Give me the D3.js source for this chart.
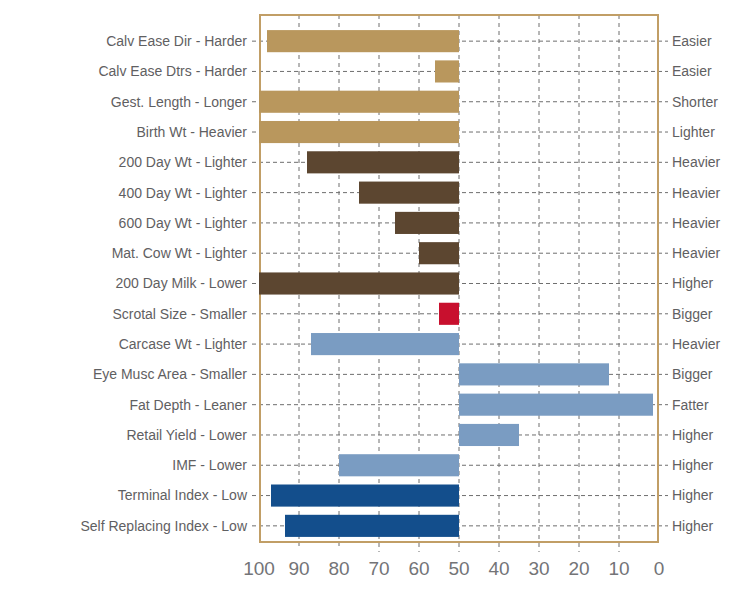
<!DOCTYPE html>
<html>
<head>
<meta charset="utf-8">
<script src="https://cdn.jsdelivr.net/npm/d3@7"></script>
<style>
  body { margin: 0; background: #fff; }
  text { font-family: "Liberation Sans", Arial, sans-serif; fill: #5f6062; }
</style>
</head>
<body>
<svg class="chart" width="732" height="589"></svg>
<script>
// traits, left (low) label, right (high) label, value and group colour
var traits = ["Calv Ease Dir - Harder", "Calv Ease Dtrs - Harder", "Gest. Length - Longer", "Birth Wt - Heavier",
  "200 Day Wt - Lighter", "400 Day Wt - Lighter", "600 Day Wt - Lighter", "Mat. Cow Wt - Lighter",
  "200 Day Milk - Lower", "Scrotal Size - Smaller", "Carcase Wt - Lighter", "Eye Musc Area - Smaller",
  "Fat Depth - Leaner", "Retail Yield - Lower", "IMF - Lower", "Terminal Index - Low", "Self Replacing Index - Low"];
var rightLabels = ["Easier", "Easier", "Shorter", "Lighter", "Heavier", "Heavier", "Heavier", "Heavier",
  "Higher", "Bigger", "Heavier", "Bigger", "Fatter", "Higher", "Higher", "Higher", "Higher"];
var percentiles = [98, 56, 100, 100, 88, 75, 66, 60, 100, 55, 87, 12.5, 1.5, 35, 80, 97, 93.5];
var groups = ["calving", "calving", "calving", "calving", "growth", "growth", "growth", "growth",
  "growth", "fertility", "carcase", "carcase", "carcase", "carcase", "carcase", "index", "index"];
var ticks = [100, 90, 80, 70, 60, 50, 40, 30, 20, 10, 0];

var svg = d3.select(".chart");
// plot frame (don't call it "top", that's window.top)
var fLeft = 260, fRight = 658, fTop = 15, fBottom = 542;

var color = d3.scaleOrdinal()
    .domain(["calving", "growth", "fertility", "carcase", "index"])
    .range(["#b9975d", "#5c4630", "#c8102e", "#7a9cc2", "#134e8c"]);

var x = d3.scaleLinear().domain([100, 0]).range([259, 659]);
var y = d3.scaleBand().domain(traits).range([26, 541]).paddingInner(0.27).paddingOuter(0.135);

// vertical grid
svg.append("g").selectAll("line")
    .data(ticks.filter(d => d > 0 && d < 100))
    .enter().append("line")
    .attr("x1", d => x(d)).attr("x2", d => x(d))
    .attr("y1", fTop).attr("y2", d => d >= 80 ? fBottom + 4 : fBottom + 10)
    .attr("stroke", "#6f6f6f").attr("stroke-width", 1).attr("stroke-dasharray", "4,4");

// horizontal grid running past the frame into the tick marks
svg.append("g").selectAll("line")
    .data(traits)
    .enter().append("line")
    .attr("x1", 252).attr("x2", 668)
    .attr("y1", d => y(d) + y.bandwidth() / 2).attr("y2", d => y(d) + y.bandwidth() / 2)
    .attr("stroke", "#6f6f6f").attr("stroke-width", 1).attr("stroke-dasharray", "4,3");

// frame
svg.append("rect")
    .attr("x", fLeft).attr("y", fTop)
    .attr("width", fRight - fLeft).attr("height", fBottom - fTop)
    .attr("fill", "none").attr("stroke", "#c19e66").attr("stroke-width", 2);

// bars grow out of the 50th percentile
svg.append("g").selectAll("rect")
    .data(percentiles)
    .enter().append("rect")
    .attr("x", d => Math.min(x(d), x(50)))
    .attr("width", d => Math.abs(x(d) - x(50)))
    .attr("y", (d, i) => y(traits[i]))
    .attr("height", y.bandwidth())
    .attr("fill", (d, i) => color(groups[i]));

// left labels
svg.append("g").selectAll("text")
    .data(traits)
    .enter().append("text")
    .attr("x", 247)
    .attr("y", d => y(d) + y.bandwidth() / 2)
    .attr("dy", "0.35em")
    .attr("text-anchor", "end")
    .style("font-size", "14px")
    .text(d => d);

// right labels
svg.append("g").selectAll("text")
    .data(rightLabels)
    .enter().append("text")
    .attr("x", 672)
    .attr("y", (d, i) => y(traits[i]) + y.bandwidth() / 2)
    .attr("dy", "0.35em")
    .style("font-size", "14px")
    .text(d => d);

// bottom axis labels
svg.append("g").selectAll("text")
    .data(ticks)
    .enter().append("text")
    .attr("x", d => x(d))
    .attr("y", 575)
    .attr("text-anchor", "middle")
    .style("font-size", "19px")
    .style("fill", "#737477")
    .text(d => d);
</script>
</body>
</html>
